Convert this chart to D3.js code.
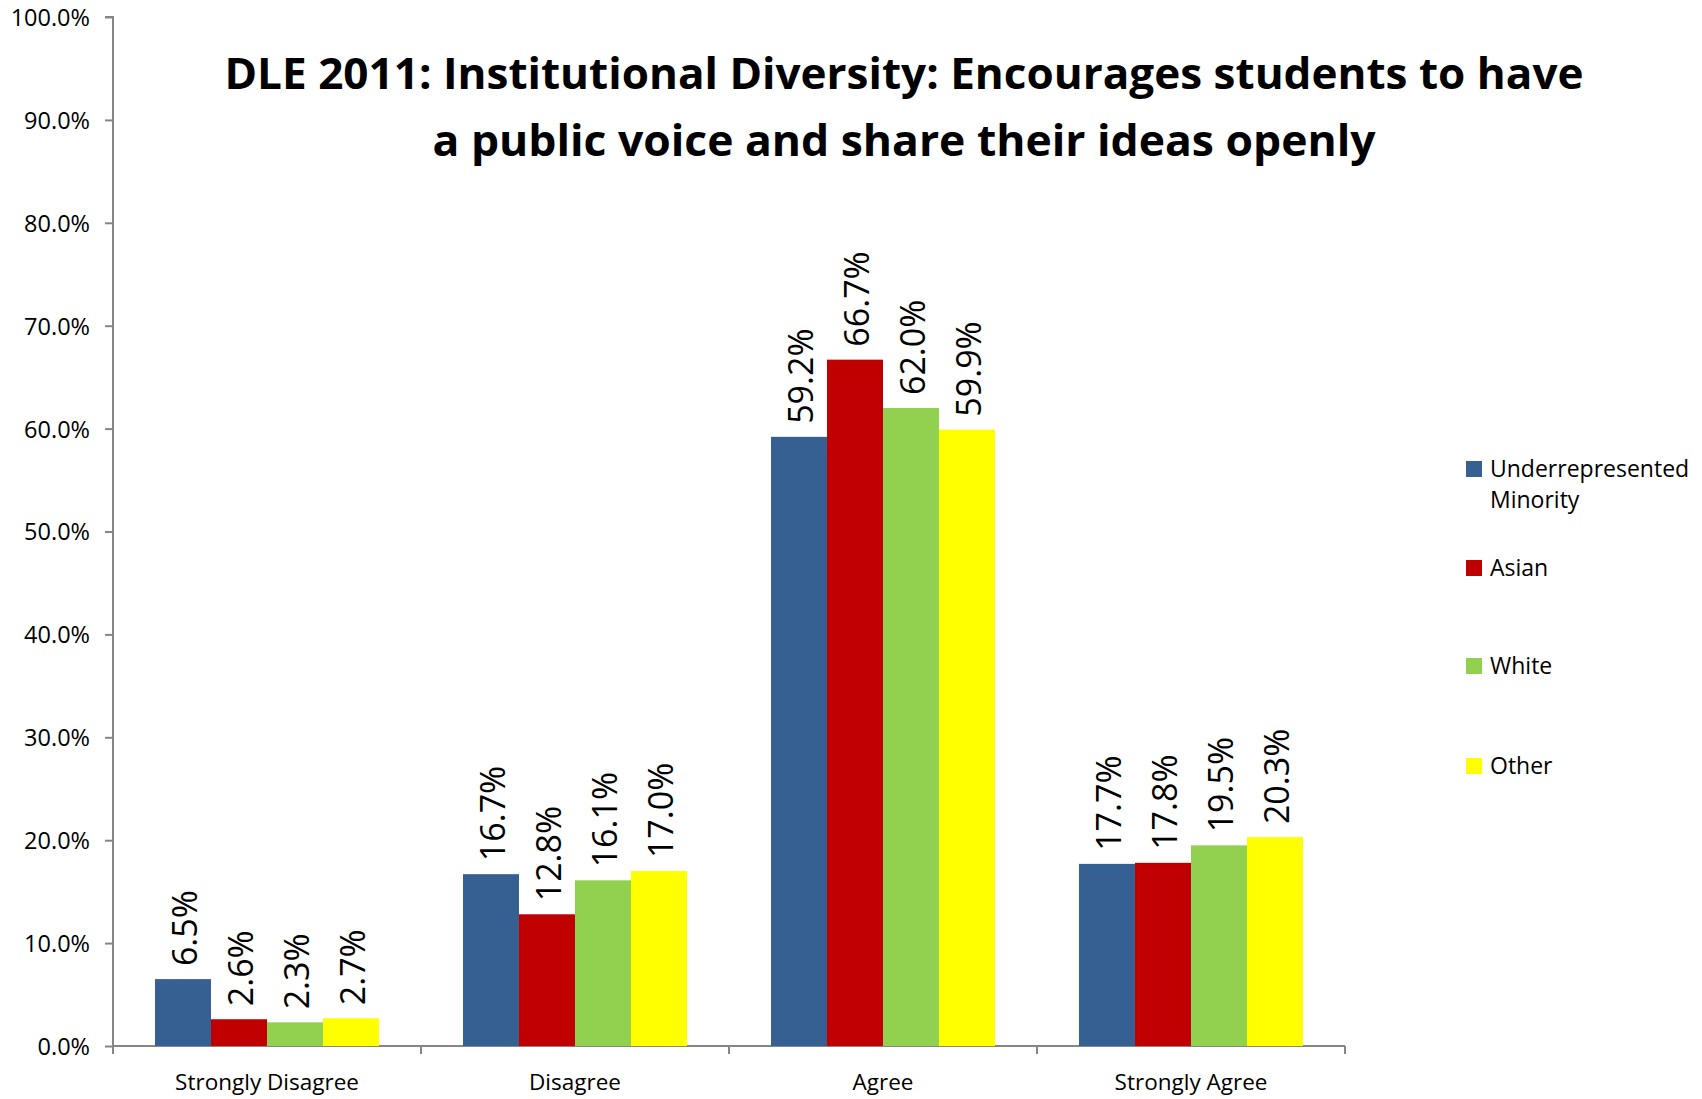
<!DOCTYPE html>
<html>
<head>
<meta charset="utf-8">
<script src="https://cdn.jsdelivr.net/npm/d3@7"></script>
<style>
  html, body { margin: 0; padding: 0; background: #fff; }
  svg { display: block; }
</style>
</head>
<body>
<script>
const categories = ["Strongly Disagree", "Disagree", "Agree", "Strongly Agree"];
const seriesNames = ["Underrepresented Minority", "Asian", "White", "Other"];
const seriesColors = ["#376092", "#C00000", "#92D050", "#FFFF00"];
const underrepresented = [6.5, 16.7, 59.2, 17.7];
const asian = [2.6, 12.8, 66.7, 17.8];
const white = [2.3, 16.1, 62.0, 19.5];
const other = [2.7, 17.0, 59.9, 20.3];
const yTicks = [0, 10, 20, 30, 40, 50, 60, 70, 80, 90, 100];
const titleLines = ["DLE 2011: Institutional Diversity: Encourages students to have",
                    "a public voice and share their ideas openly"];

const seriesValues = [underrepresented, asian, white, other];

const W = 1702, H = 1099;
const margin = {left: 113, right: W - 1345, top: 17, bottom: H - 1046};
const FONT = "'Open Sans', sans-serif";

const svg = d3.select("body").append("svg").attr("width", W).attr("height", H);

const x0 = d3.scaleBand().domain(categories).range([margin.left, W - margin.right]).paddingInner(0).paddingOuter(0);
const x1 = d3.scaleBand().domain(d3.range(seriesNames.length)).range([0, x0.bandwidth()]).paddingInner(0).paddingOuter(0.75);
const y = d3.scaleLinear().domain([0, 100]).range([H - margin.bottom, margin.top]);

// Y axis
const yAxis = svg.append("g").attr("transform", `translate(${margin.left},0)`)
  .call(d3.axisLeft(y).tickValues(yTicks).tickSize(8).tickPadding(15).tickFormat(d => d3.format(".1f")(d) + "%"));
yAxis.selectAll("path, line").attr("stroke", "#868686").attr("stroke-width", 2);
yAxis.select("path").attr("d", `M-8,${y(100)}H0V${y(0)}`);
yAxis.selectAll("text").attr("font-family", FONT).attr("font-size", 23.5).attr("fill", "#000").attr("dy", "0.36em");

// X axis
const xAxisG = svg.append("g").attr("transform", `translate(0,${y(0)})`);
xAxisG.append("line").attr("x1", x0.range()[0]).attr("x2", x0.range()[1]).attr("y1", 0).attr("y2", 0)
  .attr("stroke", "#868686").attr("stroke-width", 2);
const bounds = categories.map(c => x0(c)).concat([x0.range()[1]]);
xAxisG.selectAll("line.tk").data(bounds).join("line").attr("class", "tk")
  .attr("x1", d => d).attr("x2", d => d).attr("y1", 0).attr("y2", 8)
  .attr("stroke", "#868686").attr("stroke-width", 2);
xAxisG.selectAll("text").data(categories).join("text")
  .attr("x", d => x0(d) + x0.bandwidth() / 2).attr("y", 44)
  .attr("text-anchor", "middle").attr("font-family", FONT).attr("font-size", 22.5).attr("fill", "#000")
  .text(d => d);

// Bars
const groups = svg.append("g").selectAll("g").data(categories).join("g")
  .attr("transform", d => `translate(${x0(d)},0)`);
groups.selectAll("rect").data((c, ci) => seriesValues.map((s, si) => ({si, v: s[ci]}))).join("rect")
  .attr("x", d => x1(d.si)).attr("width", x1.bandwidth())
  .attr("y", d => y(d.v)).attr("height", d => y(0) - y(d.v))
  .attr("fill", d => seriesColors[d.si]);

// Data labels (rotated)
groups.selectAll("text").data((c, ci) => seriesValues.map((s, si) => ({si, v: s[ci]}))).join("text")
  .attr("transform", d => `translate(${x1(d.si) + x1.bandwidth() / 2 + 2},${y(d.v) - 13}) rotate(-90)`)
  .attr("text-anchor", "start").attr("dy", "0.36em")
  .attr("font-family", FONT).attr("font-size", 34).attr("fill", "#000")
  .text(d => d3.format(".1f")(d.v) + "%");

// Title
const title = svg.append("g");
title.selectAll("text").data(titleLines).join("text")
  .attr("x", 904).attr("y", (d, i) => 89 + i * 67)
  .attr("text-anchor", "middle").attr("font-family", FONT).attr("font-weight", "bold")
  .attr("font-size", 43).attr("fill", "#000")
  .attr("textLength", (d, i) => i === 0 ? 1359 : 943).attr("lengthAdjust", "spacingAndGlyphs")
  .text(d => d);

// Legend
const legendItems = [
  {lines: ["Underrepresented", "Minority"], cy: 469},
  {lines: ["Asian"], cy: 568},
  {lines: ["White"], cy: 666},
  {lines: ["Other"], cy: 766}
];
const leg = svg.append("g");
legendItems.forEach((it, i) => {
  leg.append("rect").attr("x", 1466).attr("y", it.cy - 8).attr("width", 16).attr("height", 16).attr("fill", seriesColors[i]);
  const t = leg.append("text").attr("x", 1490).attr("y", it.cy + 8)
    .attr("font-family", FONT).attr("font-size", 23).attr("fill", "#000");
  it.lines.forEach((ln, j) => {
    t.append("tspan").attr("x", 1490).attr("dy", j === 0 ? 0 : 31).text(ln);
  });
});
</script>
</body>
</html>
